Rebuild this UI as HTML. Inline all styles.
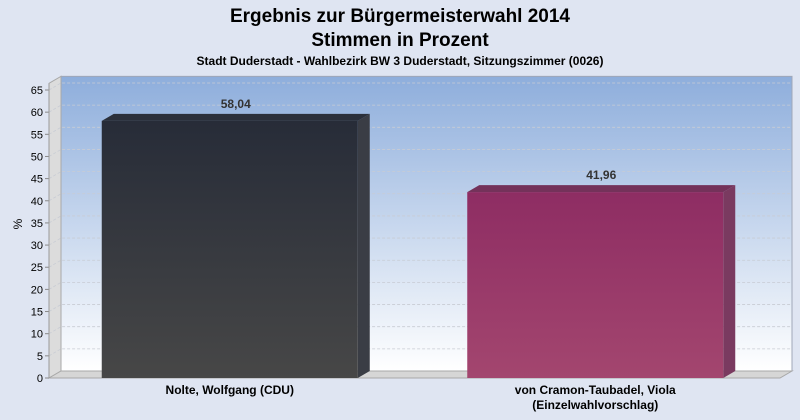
<!DOCTYPE html>
<html><head><meta charset="utf-8"><style>
body{margin:0;background:#dfe5f2;}
svg{display:block;font-family:"Liberation Sans",Arial,sans-serif;}
</style></head><body>
<svg width="800" height="420" viewBox="0 0 800 420">
<defs>
<linearGradient id="wall" x1="0" y1="0" x2="0" y2="1">
<stop offset="0" stop-color="#8eaedc"/><stop offset="1" stop-color="#ffffff"/></linearGradient>
<linearGradient id="b1" x1="0" y1="0" x2="0" y2="1">
<stop offset="0" stop-color="#272c38"/><stop offset="1" stop-color="#474747"/></linearGradient>
<linearGradient id="b2" x1="0" y1="0" x2="0" y2="1">
<stop offset="0" stop-color="#8e2d63"/><stop offset="1" stop-color="#a3466f"/></linearGradient>
</defs>
<rect width="800" height="420" fill="#dfe5f2"/>
<text x="400" y="22" text-anchor="middle" font-size="19" font-weight="bold">Ergebnis zur Bürgermeisterwahl 2014</text>
<text x="400" y="46" text-anchor="middle" font-size="19" font-weight="bold">Stimmen in Prozent</text>
<text x="400" y="65" text-anchor="middle" font-size="12" font-weight="bold">Stadt Duderstadt - Wahlbezirk BW 3 Duderstadt, Sitzungszimmer (0026)</text>
<g id="plot"></g>
<text transform="translate(22,224) rotate(-90)" text-anchor="middle" font-size="12">%</text>
</svg>
<script>
const categories=["Nolte, Wolfgang (CDU)","von Cramon-Taubadel, Viola|(Einzelwahlvorschlag)"];
const values=[58.04,41.96];
const labels=["58,04","41,96"];
const ticks=[0,5,10,15,20,25,30,35,40,45,50,55,60,65];
const fills=["url(#b1)","url(#b2)"];
const tops=["#2b303b","#74325a"];const sides=["#3a3d45","#7a3a60"];
const NS="http://www.w3.org/2000/svg";
const g=document.getElementById("plot");
const X0=49,X1=780,Y0=378,DX=12,DY=7,K=288/65;
const y=v=>Y0-v*K;
function el(t,a,p){const e=document.createElementNS(NS,t);for(const k in a)e.setAttribute(k,a[k]);(p||g).appendChild(e);return e;}
const yTop=y(66.5);
let w=el("rect",{x:X0+DX,y:yTop-DY,width:X1-X0,height:Y0-yTop,fill:"url(#wall)",stroke:"#a0a8b8"});

let lw=el("polygon",{points:`${X0},${yTop} ${X0+DX},${yTop-DY} ${X0+DX},${Y0-DY} ${X0},${Y0}`,fill:"#dcdcdc",stroke:"#a8a8a8"});

let fl=el("polygon",{points:`${X0},${Y0} ${X0+DX},${Y0-DY} ${X1+DX},${Y0-DY} ${X1},${Y0}`,fill:"#d6d6d6",stroke:"#a8a8a8"});

ticks.forEach(t=>{
 if(t>0){let gl=el("polyline",{points:`${X0},${y(t)} ${X0+DX},${y(t)-DY} ${X1+DX},${y(t)-DY}`,fill:"none",stroke:"#c8ccd4","stroke-dasharray":"3,2","stroke-width":"0.8"});
 }
 let tk=el("line",{x1:X0-4,x2:X0,y1:y(t),y2:y(t),stroke:"#888"});
 
 let tl=el("text",{x:X0-6,y:y(t)+4,"text-anchor":"end","font-size":"11"});tl.textContent=t;
 
});
let ax=el("line",{x1:X0,x2:X0,y1:Y0,y2:yTop,stroke:"#999"});

const band=(X1-X0)/categories.length,bw=256;
values.forEach((v,i)=>{
 const cx=X0+band*(i+0.5)-DX/2+4, x=cx-bw/2, yt=y(v);
 let s=el("polygon",{points:`${x+bw},${yt} ${x+bw+DX},${yt-DY} ${x+bw+DX},${Y0-DY} ${x+bw},${Y0}`,fill:sides[i]});
 
 let tp=el("polygon",{points:`${x},${yt} ${x+DX},${yt-DY} ${x+bw+DX},${yt-DY} ${x+bw},${yt}`,fill:tops[i]});
 
 let r=el("rect",{x:x,y:yt,width:bw,height:Y0-yt,fill:fills[i]});
 
 let vl=el("text",{x:cx+DX/2,y:yt-DY-6,"text-anchor":"middle","font-size":"12","font-weight":"bold",fill:"#333"});vl.textContent=labels[i];
 
 categories[i].split("|").forEach((ln,j)=>{
  let cl=el("text",{x:cx,y:Y0+16+j*15,"text-anchor":"middle","font-size":"12","font-weight":"bold"});cl.textContent=ln;
  
 });
});
</script>
</body></html>
